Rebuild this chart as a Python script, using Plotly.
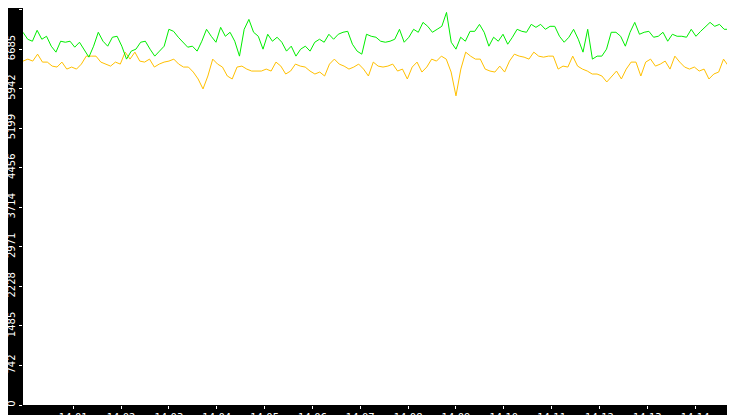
import numpy as np
import pandas as pd
import plotly.graph_objects as go

green = [6999,6868,6831,7036,6868,6924,6738,6626,6831,6812,6831,6719,6812,6682,6532,6738,6999,6831,6738,6906,6924,6738,6495,6645,6682,6812,6831,6682,6551,6645,6738,7055,7017,6906,6812,6719,6738,6645,6831,7055,6924,6812,7092,6924,6999,6831,6551,7055,7241,6999,6924,6682,
         6962,6831,6906,6812,6645,6738,6551,6682,6738,6645,6812,6868,6812,6962,6868,6962,6999,7017,6775,6645,6588,6962,6924,6906,6831,6812,6831,6868,7055,6812,6906,7055,6999,7185,7111,6999,7055,7111,7372,6812,6682,6906,6831,7017,7017,7148,6999,6738,6906,6831,6962,
         6775,6906,7055,7017,6999,7148,7092,7148,7055,7111,7111,6924,6812,6906,7055,6868,6626,7055,6495,6551,6551,6682,6999,6999,6924,6738,6999,7185,6962,6999,7017,6906,6924,6999,6831,6962,6924,6924,6906,7055,6924,7017,7092,7185,7111,7148,7055,7055,6812,6551,3500]
yellow = [6458,6495,6458,6588,6439,6439,6364,6346,6439,6308,6346,6308,6402,6551,6551,6551,6439,6402,6364,6439,6402,6626,6495,6626,6458,6439,6495,6346,6402,6439,6458,6495,6402,6346,6346,6252,6122,5935,6178,6495,6402,6346,6178,6122,6346,6364,6308,6271,
          6271,6271,6308,6271,6439,6364,6215,6271,6402,6364,6346,6271,6215,6252,6178,6402,6495,6402,6364,6308,6346,6402,6308,6178,6439,6364,6346,6364,6402,6271,6308,6122,6346,6439,6252,6346,6495,6458,6551,6495,6252,5805,6308,6626,6551,6495,6495,6308,6271,6252,6364,
          6252,6458,6588,6551,6532,6495,6626,6551,6532,6551,6551,6308,6364,6346,6551,6364,6308,6271,6215,6215,6178,6066,6178,6271,6122,6308,6439,6439,6178,6439,6495,6364,6402,6458,6308,6551,6439,6346,6308,6346,6271,6308,6122,6215,6252,6495,6364,6402,6495,0]
y_ticks = [0, 742, 1485, 2228, 2971, 3714, 4456, 5199, 5942, 6685, 7428]
x_ticks = ["14:%02d" % m for m in range(1, 15)]

start, end = pd.Timestamp("2024-01-01 13:59:57"), pd.Timestamp("2024-01-01 14:15:00")
def times(n):
    return pd.date_range(start, end, periods=n)

fig = go.Figure()
fig.add_trace(go.Scatter(x=times(len(yellow)), y=yellow, mode="lines", line=dict(color="#FFC000", width=1)))
fig.add_trace(go.Scatter(x=times(len(green)), y=green, mode="lines", line=dict(color="#00EE00", width=1)))

fig.update_layout(
    width=735, height=415, showlegend=False,
    paper_bgcolor="black", plot_bgcolor="white",
    margin=dict(l=15, r=0, t=0, b=18, pad=0),
    font=dict(family="DejaVu Sans", color="white", size=10),
)
fig.update_xaxes(range=[start, end], tickmode="array", automargin=False,
                 tickvals=[pd.Timestamp("2024-01-01 " + t) for t in x_ticks], ticktext=x_ticks,
                 ticks="outside", ticklen=3, tickcolor="white", showgrid=False, zeroline=False)
fig.update_yaxes(range=[0, 7455], tickmode="array", tickvals=y_ticks, ticktext=[str(v) for v in y_ticks],
                 automargin=False, tickangle=-90, ticks="outside", ticklen=3, tickcolor="white",
                 showgrid=False, zeroline=False)
fig.write_html("out.html")
